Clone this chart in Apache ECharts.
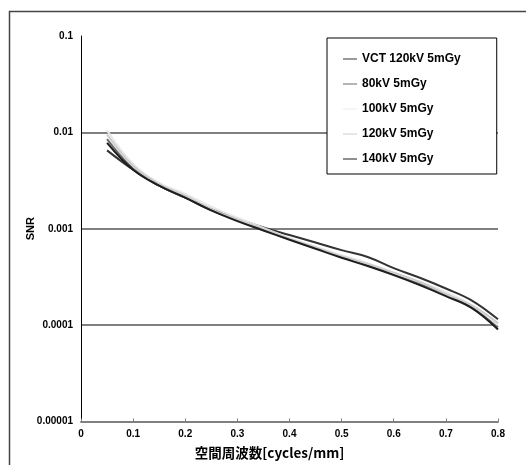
<!DOCTYPE html>
<html>
<head>
<meta charset="utf-8">
<script src="https://cdn.jsdelivr.net/npm/echarts@6/dist/echarts.min.js"></script>
<style>
  html, body { margin: 0; padding: 0; background: #fff; }
  #chart { width: 526px; height: 465px; }
</style>
</head>
<body>
<div id="chart"></div>
<script>
// spatial frequency samples [cycles/mm]
var freqs = [0.05, 0.1, 0.15, 0.2, 0.25, 0.3, 0.35, 0.4, 0.45, 0.5, 0.55, 0.6, 0.65, 0.7, 0.75, 0.8];

var seriesNames = ['VCT 120kV 5mGy', '80kV 5mGy', '100kV 5mGy', '120kV 5mGy', '140kV 5mGy'];
var seriesColors = ['#333333', '#6a6a6a', '#e8e8e8', '#cccccc', '#1e1e1e'];

var snrVct   = [0.0065, 0.0041, 0.0028, 0.0021, 0.0016, 0.00128, 0.00103, 0.00086, 0.00072, 0.0006, 0.00051, 0.00039, 0.00031, 0.00024, 0.00018, 0.000115];
var snr80kV  = [0.0085, 0.0042, 0.0028, 0.0021, 0.00155, 0.00122, 0.00097, 0.00078, 0.00063, 0.00051, 0.00042, 0.00034, 0.00027, 0.00021, 0.000155, 0.000095];
var snr100kV = [0.0105, 0.0047, 0.0030, 0.0023, 0.0017, 0.0013, 0.00102, 0.0008, 0.00065, 0.00053, 0.00044, 0.00035, 0.00028, 0.00022, 0.00016, 0.0001];
var snr120kV = [0.0095, 0.0045, 0.0029, 0.0022, 0.0016, 0.00125, 0.001, 0.00079, 0.00064, 0.00052, 0.00043, 0.00035, 0.00028, 0.00021, 0.00016, 0.000105];
var snr140kV = [0.0078, 0.0041, 0.0028, 0.0021, 0.00155, 0.0012, 0.00096, 0.00077, 0.00062, 0.0005, 0.00041, 0.00033, 0.00026, 0.0002, 0.00015, 0.00009];

var yTickLabels = ['0.00001', '0.0001', '0.001', '0.01', '0.1'];

var snrData = [snrVct, snr80kV, snr100kV, snr120kV, snr140kV];

var chart = echarts.init(document.getElementById('chart'));

var labelFont = '"Liberation Sans", Arial, "Noto Sans CJK JP", sans-serif';

var series = [];
for (var i = 0; i < seriesNames.length; i++) {
    var pts = [];
    for (var j = 0; j < freqs.length; j++) {
        pts.push([freqs[j], snrData[i][j]]);
    }
    series.push({
        name: seriesNames[i],
        type: 'line',
        data: pts,
        smooth: 0.4,
        symbol: 'none',
        lineStyle: { color: seriesColors[i], width: 2 },
        itemStyle: { color: seriesColors[i] }
    });
}

var option = {
    backgroundColor: '#fff',
    animation: false,
    textStyle: { fontFamily: labelFont },
    graphic: [{
        type: 'rect',
        left: 7, top: 9,
        shape: { width: 600, height: 600 },
        style: { fill: 'none', stroke: '#444', lineWidth: 1.5 },
        z: -10
    }],
    grid: { left: 81, right: 28, top: 36, bottom: 43 },
    legend: {
        orient: 'vertical',
        left: 327, top: 38,
        padding: [15, 36, 9, 16],
        itemGap: 13,
        itemWidth: 14,
        itemHeight: 12,
        backgroundColor: '#fff',
        borderColor: '#000',
        borderWidth: 1,
        icon: 'path://M0,5.5 L14,5.5 L14,6.5 L0,6.5 Z',
        textStyle: { fontSize: 12, fontWeight: 'bold', color: '#000', fontFamily: labelFont },
        data: seriesNames
    },
    xAxis: {
        type: 'value',
        min: 0, max: 0.8, interval: 0.1,
        name: '空間周波数[cycles/mm]',
        nameLocation: 'middle',
        nameGap: 25,
        nameTextStyle: { fontSize: 13.5, fontWeight: 'bold', color: '#000', padding: [0, 40, 0, 0],
                         fontFamily: '"Noto Sans CJK JP", sans-serif' },
        axisLine: { show: true, lineStyle: { color: '#808080', width: 2 } },
        axisTick: { show: true, inside: true, length: 3, lineStyle: { color: '#808080' } },
        axisLabel: { fontSize: 10, fontWeight: 'bold', color: '#000', margin: 8,
                     formatter: function (v) { return v === 0 ? '0' : v.toFixed(1); } },
        splitLine: { show: false }
    },
    yAxis: {
        type: 'log',
        logBase: 10,
        min: 0.00001, max: 0.1,
        name: 'SNR',
        nameLocation: 'middle',
        nameGap: 45,
        nameMoveOverlap: false,
        nameTextStyle: { fontSize: 11, fontWeight: 'bold', color: '#000' },
        axisLine: { show: true, lineStyle: { color: '#000', width: 1 } },
        axisTick: { show: false },
        axisLabel: { fontSize: 10, fontWeight: 'bold', color: '#000', margin: 8,
                     formatter: function (v) {
                         var k = Math.round(Math.log10(v)) + 5;
                         return yTickLabels[k] || '';
                     } },
        splitLine: { show: true,
                     lineStyle: { color: ['rgba(0,0,0,0)', '#808080', '#808080', '#808080', 'rgba(0,0,0,0)'], width: 2 } }
    },
    series: series
};

chart.setOption(option);
</script>
</body>
</html>
